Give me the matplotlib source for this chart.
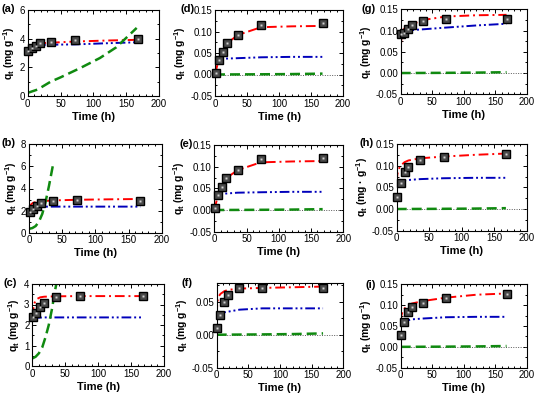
import matplotlib
matplotlib.use('Agg')
import matplotlib.pyplot as plt
from matplotlib.ticker import MultipleLocator, AutoMinorLocator, FormatStrFormatter

plt.rcParams['font.family'] = ['Liberation Sans', 'DejaVu Sans']
plt.rcParams['axes.unicode_minus'] = False
plt.rcParams['mathtext.fontset'] = 'custom'
plt.rcParams['mathtext.rm'] = 'Liberation Sans'
plt.rcParams['mathtext.bf'] = 'Liberation Sans:bold'

# sampling times (h) and model curve grid
t_exp = [1, 6, 12, 18, 36, 72, 168]
t_fit = [0, 1, 3, 6, 12, 18, 36, 72, 120, 168]

# experimental q_t values
q_a = [3.14, 3.37, 3.51, 3.67, 3.79, 3.88, 3.95]
q_b = [1.9, 2.15, 2.42, 2.66, 2.84, 2.93, 2.9]
q_c = [2.37, 2.6, 2.86, 3.09, 3.35, 3.41, 3.43]
q_d = [0.004, 0.0345, 0.053, 0.0725, 0.092, 0.115, 0.119]
q_e = [0.004, 0.0346, 0.054, 0.073, 0.092, 0.117, 0.12]
q_f = [0.01, 0.0306, 0.05, 0.061, 0.0704, 0.0704, 0.0714]
q_g = [0.091, 0.095, 0.104, 0.112, 0.123, 0.128, 0.128]
q_h = [0.027, 0.061, 0.085, 0.098, 0.113, 0.119, 0.127]
q_i = [0.028, 0.06, 0.084, 0.096, 0.104, 0.118, 0.126]

# red (dash-dot) model at t_fit
red_a = [2.2, 2.9, 3.4, 3.55, 3.65, 3.68, 3.72, 3.8, 3.87, 3.92]
red_b = [2.2, 2.35, 2.55, 2.7, 2.8, 2.85, 2.92, 2.98, 3.02, 3.05]
red_c = [2.4, 2.7, 3.05, 3.25, 3.35, 3.38, 3.4, 3.41, 3.41, 3.41]
red_d = [0.0, 0.006, 0.018, 0.035, 0.055, 0.072, 0.092, 0.11, 0.112, 0.113]
red_e = [0.0, 0.006, 0.018, 0.035, 0.057, 0.073, 0.092, 0.11, 0.112, 0.113]
red_f = [0.03, 0.05, 0.058, 0.062, 0.066, 0.068, 0.07, 0.071, 0.072, 0.073]
red_g = [0.058, 0.08, 0.098, 0.105, 0.11, 0.115, 0.125, 0.133, 0.136, 0.137]
red_h = [0.062, 0.08, 0.092, 0.1, 0.108, 0.112, 0.117, 0.121, 0.125, 0.128]
red_i = [0.06, 0.075, 0.085, 0.092, 0.1, 0.104, 0.11, 0.118, 0.125, 0.128]

# blue (dash-dot-dot) model at t_fit
blue_a = [3.3, 3.4, 3.48, 3.52, 3.55, 3.56, 3.58, 3.6, 3.68, 3.75]
blue_b = [2.2, 2.28, 2.33, 2.35, 2.36, 2.36, 2.36, 2.36, 2.36, 2.36]
blue_c = [2.3, 2.32, 2.34, 2.35, 2.36, 2.37, 2.37, 2.37, 2.37, 2.37]
blue_d = [0.027, 0.03, 0.033, 0.035, 0.036, 0.037, 0.038, 0.04, 0.041, 0.041]
blue_e = [0.027, 0.03, 0.033, 0.035, 0.037, 0.038, 0.04, 0.041, 0.042, 0.042]
blue_f = [0.03, 0.031, 0.032, 0.033, 0.034, 0.035, 0.038, 0.04, 0.04, 0.04]
blue_g = [0.09, 0.092, 0.094, 0.096, 0.099, 0.101, 0.103, 0.107, 0.112, 0.116]
blue_h = [0.062, 0.063, 0.064, 0.065, 0.066, 0.067, 0.069, 0.071, 0.072, 0.072]
blue_i = [0.06, 0.061, 0.062, 0.063, 0.064, 0.066, 0.068, 0.071, 0.072, 0.072]

# green (dashed) model
t_green_a = [0, 15, 35, 50, 80, 110, 135, 166]
green_a = [0.22, 0.45, 1.0, 1.3, 1.95, 2.65, 3.4, 4.75]
t_green_b = [0, 5, 10, 15, 20, 25, 30, 37]
green_b = [0.35, 0.42, 0.6, 1.0, 1.7, 2.8, 4.2, 6.4]
t_green_c = [0, 5, 10, 15, 20, 25, 30, 34, 36.5]
green_c = [0.37, 0.45, 0.62, 0.9, 1.4, 2.0, 2.8, 3.6, 4.0]
t_green_low = [0, 72, 120, 168]
green_low = [0.0, 0.0005, 0.001, 0.002]

W, H = 538, 396
fig = plt.figure(figsize=(W / 100, H / 100), dpi=100)

ylab = r'q$_\mathbf{t}$ (mg g$^\mathbf{-1}$)'
ylab_h = r'q$_\mathbf{t}$ (mg · g$^\mathbf{-1}$)'
# label, box in pixels (L, R, T, B), data, y range, tick step, format, y label, label xy
panels = [
    ('(a)', (27.7, 159, 10, 96), q_a, red_a, blue_a, t_green_a, green_a, (0, 6), 2, '%d', ylab, (2, 9)),
    ('(b)', (29, 161.7, 144.3, 232.7), q_b, red_b, blue_b, t_green_b, green_b, (0, 8), 2, '%d', ylab, (2, 143)),
    ('(c)', (32.3, 164, 284, 366), q_c, red_c, blue_c, t_green_c, green_c, (0, 4), 1, '%d', ylab, (4, 283)),
    ('(d)', (215, 343, 10, 96), q_d, red_d, blue_d, t_green_low, green_low, (-0.05, 0.15), 0.05, '%.2f', ylab, (181, 9)),
    ('(e)', (214.3, 343.3, 145, 231.7), q_e, red_e, blue_e, t_green_low, green_low, (-0.05, 0.15), 0.05, '%.2f', ylab, (179, 144)),
    ('(f)', (216.7, 343.3, 283.3, 367.7), q_f, red_f, blue_f, t_green_low, green_low, (-0.05, 0.078), 0.05, '%.2f', ylab, (182, 283)),
    ('(g)', (400.7, 526.7, 9.3, 94.3), q_g, red_g, blue_g, t_green_low, green_low, (-0.05, 0.15), 0.05, '%.2f', ylab, (362, 9)),
    ('(h)', (396.7, 526.7, 144, 230.7), q_h, red_h, blue_h, t_green_low, green_low, (-0.05, 0.15), 0.05, '%.2f', ylab_h, (360, 143)),
    ('(i)', (400.7, 526.7, 284.3, 367.7), q_i, red_i, blue_i, t_green_low, green_low, (-0.05, 0.15), 0.05, '%.2f', ylab, (366, 285)),
]

for name, box, q, red, blue, tg, green, ylim, ystep, fmt, ylabel, lxy in panels:
    L, R, T, B = box
    ax = fig.add_axes([L / W, 1 - B / H, (R - L) / W, (B - T) / H])

    if ylim[0] < 0:
        ax.plot([0, 200], [0, 0], color='0.35', lw=0.7, ls=(0, (1, 1.5)))
    ax.plot(t_fit, red, color='#ff0000', lw=1.4, ls=(0, (5, 2, 1, 2)))
    ax.plot(t_fit, blue, color='#0000bb', lw=1.4, ls=(0, (5, 1.5, 1, 1.5, 1, 1.5)))
    ax.plot(tg, green, color='#108a10', lw=1.8, ls=(0, (4, 2)))
    ax.plot(t_exp, q, ls='none', marker='s', ms=5.5, mfc='#4a4a4a', mec='black',
            mew=1.0, clip_on=False, zorder=5)
    ax.plot(t_exp, q, ls='none', marker='s', ms=1.5, mfc='#d0d0d0', mec='none',
            clip_on=False, zorder=6)

    ax.set_xlim(0, 200)
    ax.set_ylim(*ylim)
    ax.xaxis.set_major_locator(MultipleLocator(50))
    ax.xaxis.set_minor_locator(AutoMinorLocator(5))
    ax.yaxis.set_major_locator(MultipleLocator(ystep))
    ax.yaxis.set_minor_locator(AutoMinorLocator(2))
    ax.yaxis.set_major_formatter(FormatStrFormatter(fmt))
    ax.tick_params(which='both', direction='in', top=True, right=True,
                   labelsize=7, width=0.7, pad=2)
    ax.tick_params(which='major', length=3)
    ax.tick_params(which='minor', length=1.6)
    for s in ax.spines.values():
        s.set_linewidth(0.8)

    ax.set_xlabel('Time (h)', fontsize=8, fontweight='bold', labelpad=2)
    ax.set_ylabel(ylabel, fontsize=7.5, fontweight='bold', labelpad=1.5)
    fig.text(lxy[0] / W, 1 - lxy[1] / H, name, fontsize=8, fontweight='bold',
             ha='left', va='center')

fig.savefig('out.png', dpi=100)
